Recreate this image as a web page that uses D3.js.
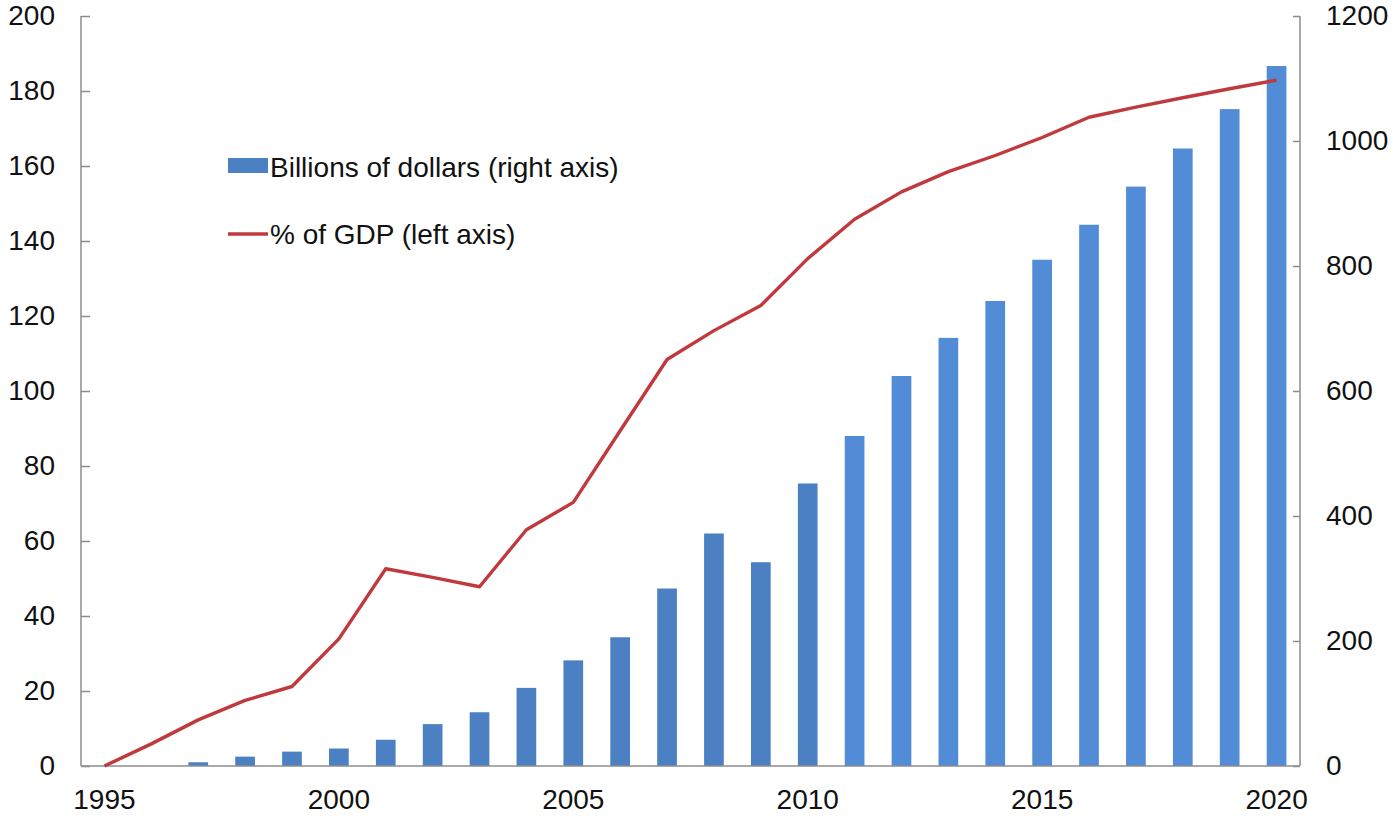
<!DOCTYPE html>
<html>
<head>
<meta charset="utf-8">
<script src="https://cdn.jsdelivr.net/npm/d3@7"></script>
<style>
  html, body { margin: 0; padding: 0; background: #fff; }
  text { font-family: "Liberation Sans", Arial, sans-serif; fill: #111; }
</style>
</head>
<body>
<svg id="chart" width="1393" height="820"></svg>
<script>
// ---- data ----
const years = d3.range(1995, 2021);
const billions = [0, 0, 6, 15, 23, 28, 42, 67, 86, 125, 169, 206, 284, 372, 326, 452, 528, 624, 685, 744, 810, 866, 927, 988, 1051, 1120];
const pctGDP = [0, 5.9, 12.3, 17.5, 21.2, 33.9, 52.6, 50.3, 47.8, 63, 70.3, 89.4, 108.4, 116.1, 122.8, 135.3, 145.8, 153.1, 158.5, 162.8, 167.6, 173, 175.7, 178.2, 180.6, 182.9];
const leftTicks = [0, 20, 40, 60, 80, 100, 120, 140, 160, 180, 200];
const rightTicks = [0, 200, 400, 600, 800, 1000, 1200];
const xTickYears = [1995, 2000, 2005, 2010, 2015, 2020];
const seriesNames = ["Billions of dollars (right axis)", "% of GDP (left axis)"];

// ---- layout ----
const L = 81, R = 1300, T = 16, B = 766;
const FS = "28px";
const svg = d3.select("#chart");

const x = d3.scaleBand().domain(years).range([L, R]).paddingInner(0).paddingOuter(0);
const yL = d3.scaleLinear().domain([0, 200]).range([B, T]);
const yR = d3.scaleLinear().domain([0, 1200]).range([B, T]);
const barW = x.bandwidth() * 0.42;

// bars
svg.append("g").selectAll("rect")
  .data(years.map((yr, i) => ({ yr, v: billions[i] })).filter(d => d.v > 0))
  .join("rect")
  .attr("x", d => x(d.yr) + x.bandwidth() / 2 - barW / 2)
  .attr("y", d => yR(d.v))
  .attr("width", barW)
  .attr("height", d => B - yR(d.v))
  .attr("fill", d => d.yr <= 2010 ? "#4b80c2" : "#528cd6");

// axes
const axisColor = "#8c8c8c";
const gL = svg.append("g").attr("transform", `translate(${L},0)`)
  .call(d3.axisLeft(yL).tickValues(leftTicks).tickFormat(d3.format("d")).tickSize(-9).tickPadding(26));
const gR = svg.append("g").attr("transform", `translate(${R},0)`)
  .call(d3.axisRight(yR).tickValues(rightTicks).tickFormat(d3.format("d")).tickSize(-7).tickPadding(26));
const gB = svg.append("g").attr("transform", `translate(0,${B})`)
  .call(d3.axisBottom(x).tickValues(xTickYears).tickFormat(d3.format("d")).tickSize(0).tickPadding(23));

[gL, gR, gB].forEach(g => {
  g.selectAll("path.domain").attr("stroke", axisColor).attr("stroke-width", 1.5);
  g.selectAll(".tick line").attr("stroke", axisColor).attr("stroke-width", 1.5);
  g.selectAll(".tick text").style("font-family", "'Liberation Sans', Arial, sans-serif")
    .style("font-size", FS).attr("fill", "#111");
});
gL.select("path.domain").attr("d", `M0,${T}V${B}`);
gR.select("path.domain").attr("d", `M0,${T}V${B}`);
gB.select("path.domain").attr("d", `M${L},0H${R}`);
gR.selectAll(".tick text").attr("x", 26).attr("text-anchor", "start");
gL.selectAll(".tick text").attr("x", -26);

// line
const line = d3.line()
  .x((d, i) => x(years[i]) + x.bandwidth() / 2)
  .y(d => yL(d));
svg.append("path").datum(pctGDP)
  .attr("d", line)
  .attr("fill", "none")
  .attr("stroke", "#c0393c")
  .attr("stroke-width", 3.4)
  .attr("stroke-linejoin", "round");

// legend
const lg = svg.append("g");
lg.append("rect").attr("x", 228).attr("y", 158).attr("width", 40).attr("height", 15).attr("fill", "#4b80c2");
lg.append("text").attr("x", 270).attr("y", 167).attr("dy", "0.35em")
  .style("font-size", FS).text(seriesNames[0]);
lg.append("line").attr("x1", 228).attr("x2", 268).attr("y1", 234).attr("y2", 234)
  .attr("stroke", "#c0393c").attr("stroke-width", 3.4);
lg.append("text").attr("x", 270).attr("y", 234).attr("dy", "0.35em")
  .style("font-size", FS).text(seriesNames[1]);
</script>
</body>
</html>
